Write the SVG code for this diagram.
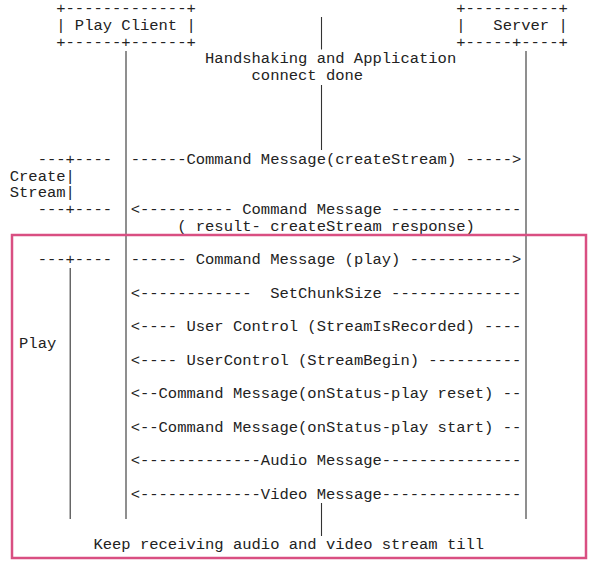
<svg xmlns="http://www.w3.org/2000/svg" width="594" height="564" viewBox="0 0 594 564">
<style>
text{font-family:"Liberation Mono","DejaVu Sans Mono",monospace;font-size:15.5px;fill:#222;white-space:pre}
.ll{stroke:#333;stroke-width:1.1;fill:none}
</style>
<rect width="594" height="564" fill="#fff"/>
<g id="client">
<text x="56.25" y="13" xml:space="preserve">+-------------+</text>
<text x="56.25" y="29.75" xml:space="preserve">| Play Client |</text>
<text x="56.25" y="46.5" xml:space="preserve">+------+------+</text>
</g>
<g id="server">
<text x="456.15" y="13" xml:space="preserve">+----------+</text>
<text x="456.15" y="29.75" xml:space="preserve">|   Server |</text>
<text x="456.15" y="46.5" xml:space="preserve">+-----+----+</text>
</g>
<g id="handshake">
<line class="ll" x1="321.5" y1="17" x2="321.5" y2="49.5"/>
<text x="205.05" y="63.25" xml:space="preserve">Handshaking and Application</text>
<text x="251.55" y="80" xml:space="preserve">connect done</text>
<line class="ll" x1="321.5" y1="85" x2="321.5" y2="150"/>
</g>
<g id="lifelines">
<line class="ll" x1="126" y1="51" x2="126" y2="519"/>
<line class="ll" x1="526" y1="51" x2="526" y2="519"/>
</g>
<g id="create-stream">
<text x="37.65" y="163.75" xml:space="preserve">---+----</text>
<text x="9.75" y="180.5" xml:space="preserve">Create|</text>
<text x="9.75" y="197.25" xml:space="preserve">Stream|</text>
<text x="37.65" y="214" xml:space="preserve">---+----</text>
</g>
<g id="play">
<text x="37.65" y="264.25" xml:space="preserve">---+----</text>
<line class="ll" x1="70.2" y1="268" x2="70.2" y2="519"/>
<text x="19.05" y="348" xml:space="preserve">Play</text>
</g>
<g id="connectors">
<text x="130.65" y="163.75" xml:space="preserve">------Command Message(createStream) -----&gt;</text>
<text x="130.65" y="214" xml:space="preserve">&lt;---------- Command Message --------------</text>
<text x="177.15" y="230.75" xml:space="preserve">( result- createStream response)</text>
<text x="130.65" y="264.25" xml:space="preserve">------ Command Message (play) -----------&gt;</text>
<text x="130.65" y="297.75" xml:space="preserve">&lt;------------  SetChunkSize --------------</text>
<text x="130.65" y="331.25" xml:space="preserve">&lt;---- User Control (StreamIsRecorded) ----</text>
<text x="130.65" y="364.75" xml:space="preserve">&lt;---- UserControl (StreamBegin) ----------</text>
<text x="130.65" y="398.25" xml:space="preserve">&lt;--Command Message(onStatus-play reset) --</text>
<text x="130.65" y="431.75" xml:space="preserve">&lt;--Command Message(onStatus-play start) --</text>
<text x="130.65" y="465.25" xml:space="preserve">&lt;-------------Audio Message---------------</text>
<text x="130.65" y="498.75" xml:space="preserve">&lt;-------------Video Message---------------</text>
</g>
<g id="keep-receiving">
<line class="ll" x1="321.5" y1="503" x2="321.5" y2="536"/>
<text x="93.45" y="549" xml:space="preserve">Keep receiving audio and video stream till</text>
</g>
<rect id="play-frame" x="12" y="235" width="574" height="323" fill="none" stroke="#d94f82" stroke-width="2.5"/>
</svg>
